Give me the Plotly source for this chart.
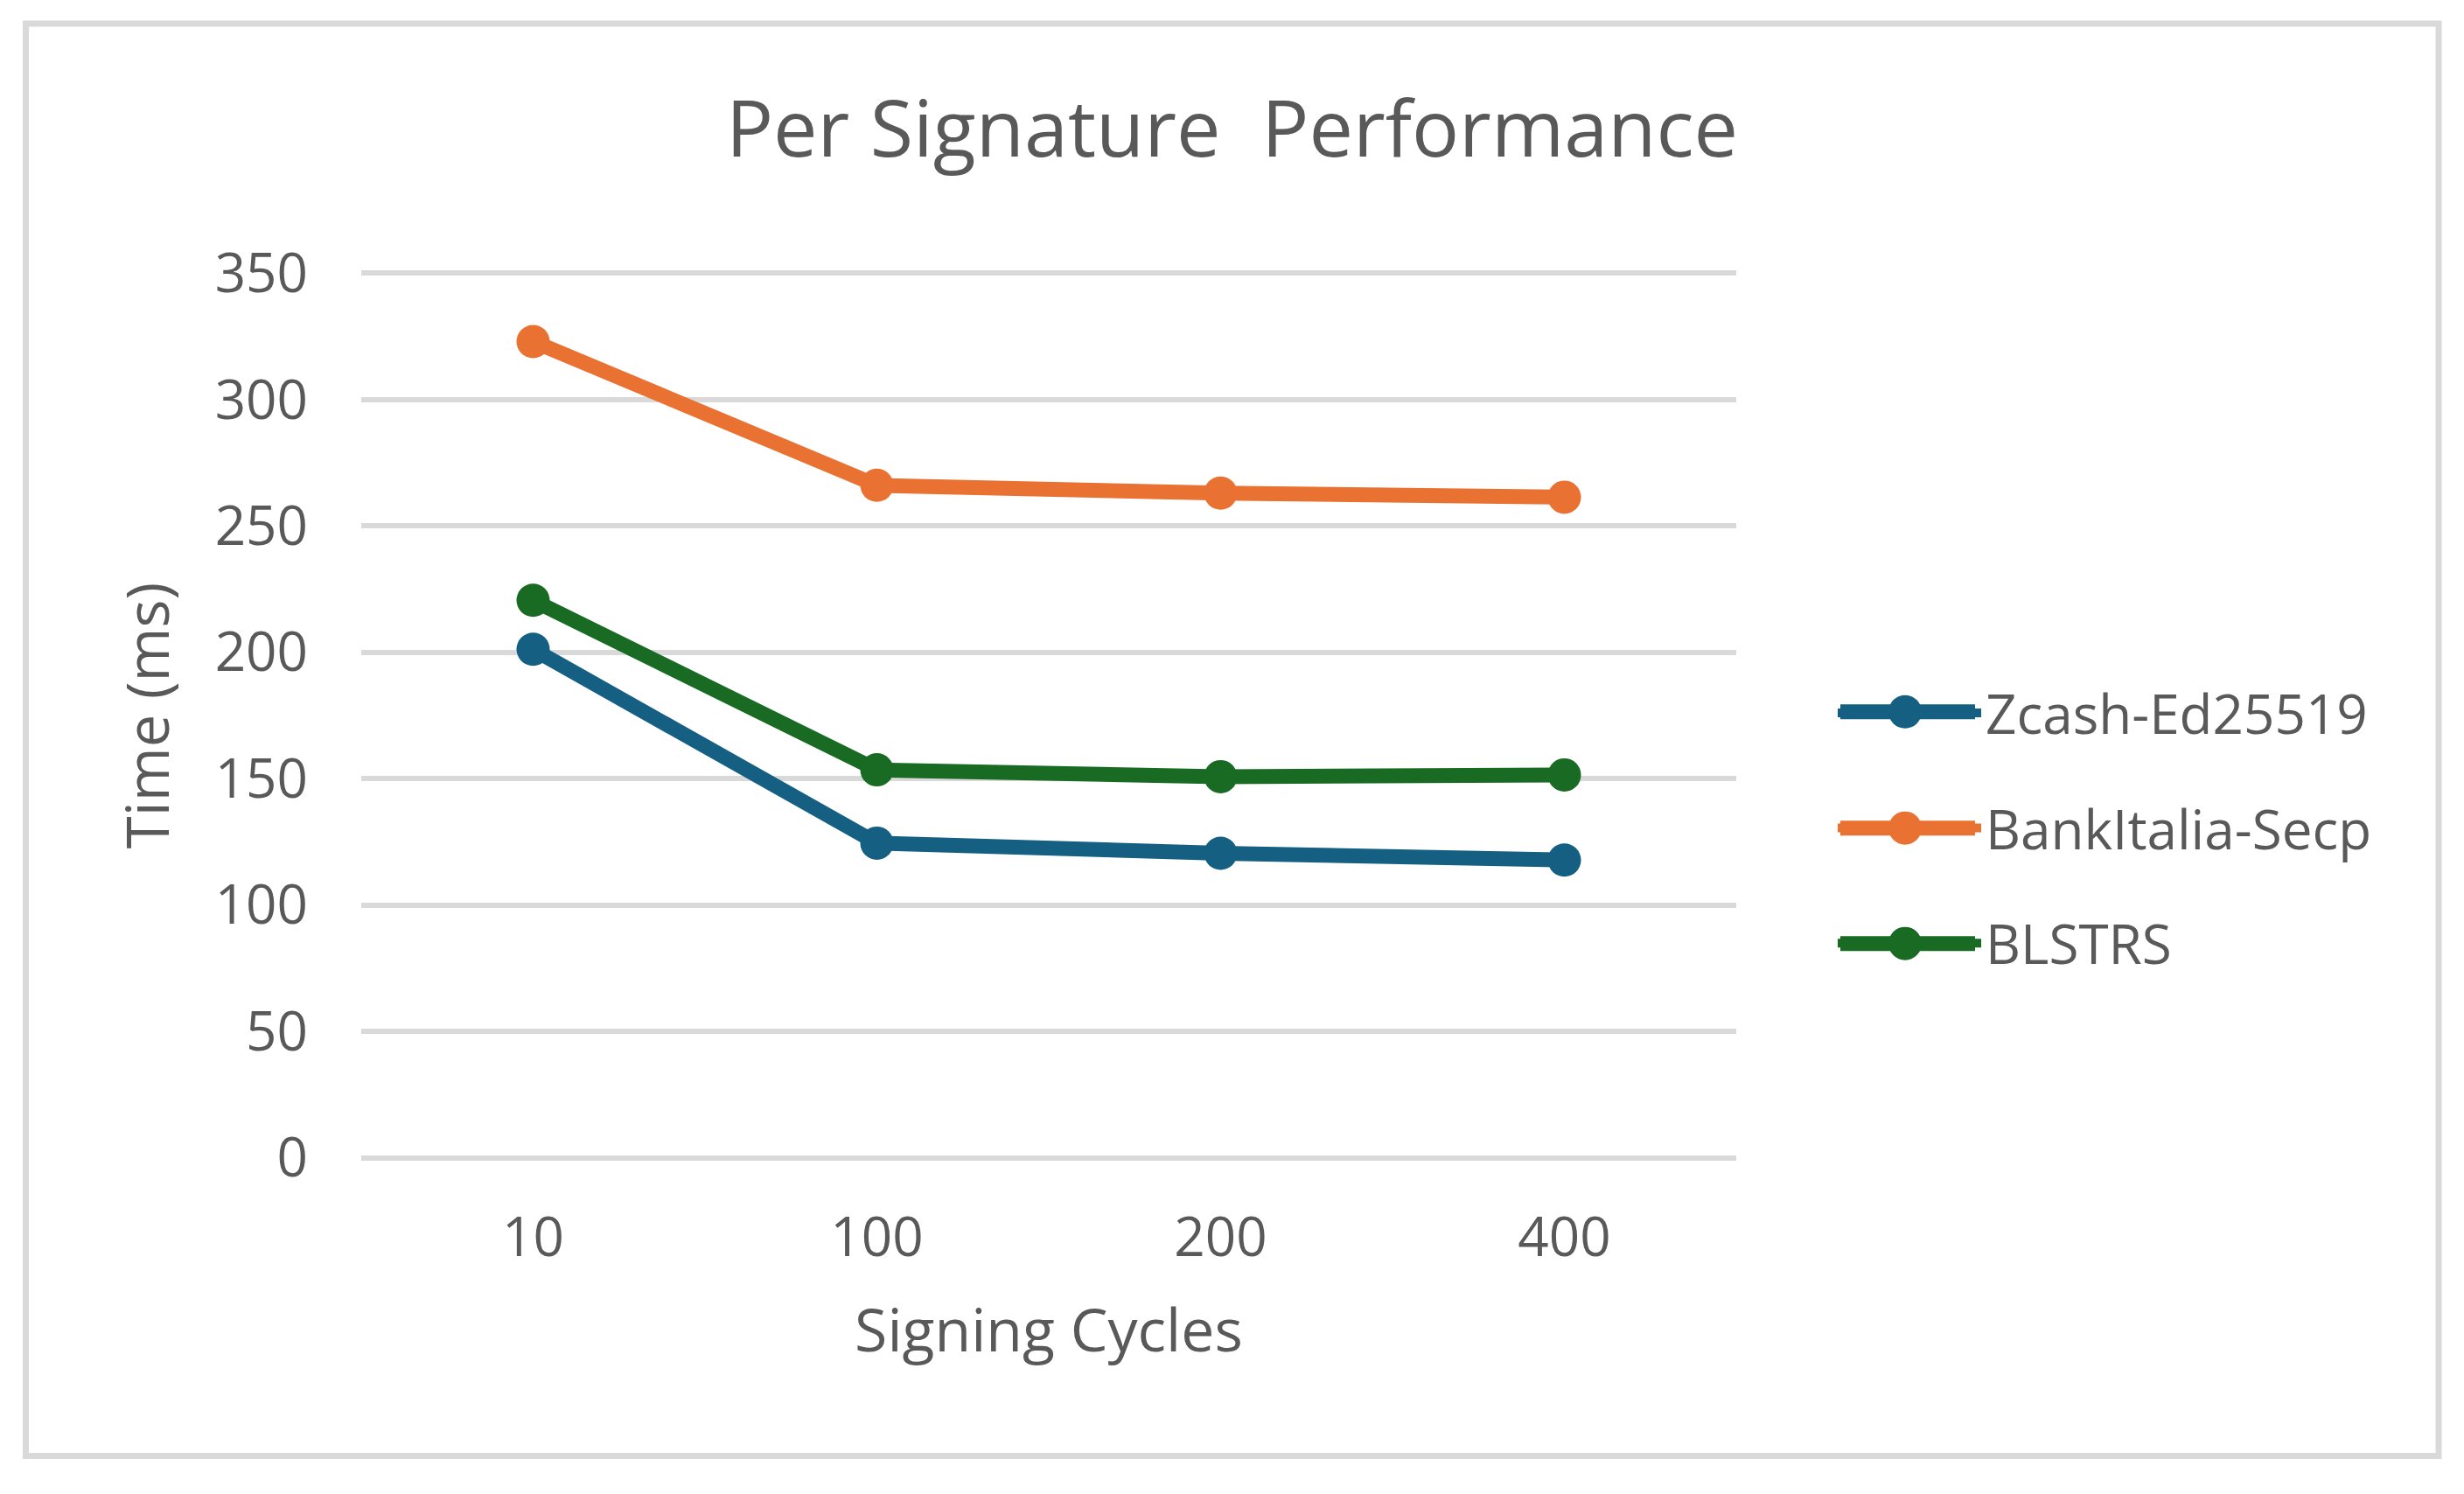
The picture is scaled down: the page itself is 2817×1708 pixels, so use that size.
import plotly.graph_objects as go

# ---- data ----
categories = ["10", "100", "200", "400"]
series_names = ["Zcash-Ed25519", "BankItalia-Secp", "BLSTRS"]
zcash_ed25519 = [201.2, 124.5, 120.5, 117.8]
bankitalia_secp = [323.0, 266.1, 263.0, 261.4]
blstrs = [220.6, 153.5, 150.8, 151.5]
y_ticks = [0, 50, 100, 150, 200, 250, 300, 350]

colors = ["#156082", "#E97132", "#196B24"]
values = [zcash_ed25519, bankitalia_secp, blstrs]

W, H = 2817, 1708
OFF = 8  # page body margin offset
# target screen positions of the plot area (y=0 .. 350 gridlines)
SL, SR, ST, SB = 413, 1985, 312.6, 1324
YMIN, YMAX = -0.5, 350.5
ppu = (SB - ST) / 350.0
L = SL - OFF
R = SR - OFF
T = ST - OFF - (YMAX - 350) * ppu
B = SB - OFF + (0 - YMIN) * ppu
FONT = "Open Sans"
TXT = "#595959"

fig = go.Figure()
for name, vals, col in zip(series_names, values, colors):
    fig.add_trace(go.Scatter(
        x=categories, y=vals, name=name, mode="lines+markers",
        legendgroup=name,
        line=dict(color=col, width=17),
        marker=dict(color=col, size=38),
    ))

def px_x(sx):
    return (sx - OFF - L) / (R - L)

def px_y(sy):
    return (B - (sy - OFF)) / (B - T)

# legend symbol enlargements (screen px)
leg_line_x0, leg_line_x1 = 2104, 2258
leg_cx = 2178
leg_cy = [814, 947, 1079]
shapes = [dict(type="rect", xref="paper", yref="paper",
               x0=px_x(29.5), x1=px_x(2788), y0=px_y(1665), y1=px_y(27),
               line=dict(color="#d9d9d9", width=7), fillcolor="rgba(0,0,0,0)",
               layer="below")]
for col, cy in zip(colors, leg_cy):
    shapes.append(dict(type="line", xref="paper", yref="paper",
                       x0=px_x(leg_line_x0), x1=px_x(leg_line_x1),
                       y0=px_y(cy), y1=px_y(cy),
                       line=dict(color=col, width=17), layer="above"))
    shapes.append(dict(type="circle", xref="paper", yref="paper",
                       xsizemode="pixel", ysizemode="pixel",
                       xanchor=px_x(leg_cx), yanchor=px_y(cy),
                       x0=-19, x1=19, y0=-19, y1=19,
                       line=dict(width=0), fillcolor=col, layer="above"))

fig.update_layout(
    width=W, height=H,
    margin=dict(l=L, r=W - R, t=T, b=H - B),
    paper_bgcolor="white", plot_bgcolor="white",
    font=dict(family=FONT, color=TXT, size=62),
    title=dict(text="Per Signature  Performance", x=0.5 - OFF / W, xref="container",
               y=1 - (147 - OFF) / H, yref="container", yanchor="middle", xanchor="center",
               font=dict(size=90, color=TXT, family=FONT)),
    xaxis=dict(type="category", range=[-0.5, 3.5], showgrid=False, zeroline=False,
               showline=False, ticks="", tickfont=dict(size=62, color=TXT),
               ticklabelstandoff=48,
               title=dict(text="Signing Cycles", font=dict(size=68, color=TXT), standoff=44)),
    yaxis=dict(range=[YMIN, YMAX], tickvals=y_ticks, showgrid=True, gridcolor="#d9d9d9",
               gridwidth=6, zeroline=False, showline=False, ticks="",
               tickfont=dict(size=62, color=TXT), ticklabelstandoff=60,
               title=dict(text="Time (ms)", font=dict(size=67, color=TXT), standoff=30)),
    legend=dict(x=px_x(2096), y=px_y(947), xanchor="left", yanchor="middle",
                font=dict(size=62, color=TXT), itemwidth=164, tracegroupgap=48,
                bgcolor="rgba(0,0,0,0)"),
    shapes=shapes,
)

fig.write_html("out.html")
